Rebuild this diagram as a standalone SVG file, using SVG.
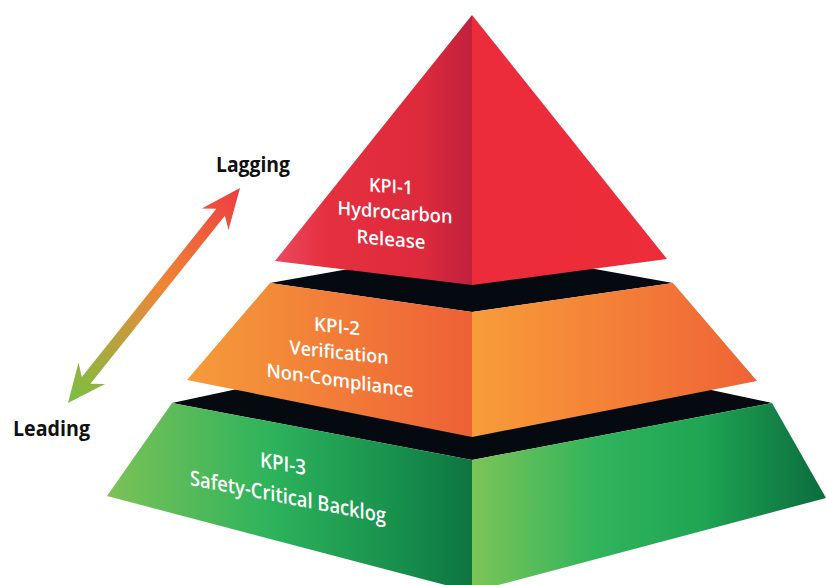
<svg xmlns="http://www.w3.org/2000/svg" width="826" height="585" viewBox="0 0 826 585">
  <defs>
    <linearGradient id="redLeft" gradientUnits="userSpaceOnUse" x1="275" y1="0" x2="472" y2="0">
      <stop offset="0" stop-color="#ea4a62"/>
      <stop offset="0.25" stop-color="#e5303f"/>
      <stop offset="0.75" stop-color="#dd2a3c"/>
      <stop offset="1" stop-color="#c0213e"/>
    </linearGradient>
    <linearGradient id="redRight" gradientUnits="userSpaceOnUse" x1="472" y1="0" x2="667" y2="0">
      <stop offset="0" stop-color="#ec2b3b"/>
      <stop offset="1" stop-color="#ee2d3a"/>
    </linearGradient>
    <linearGradient id="orangeLeft" gradientUnits="userSpaceOnUse" x1="187" y1="0" x2="472" y2="0">
      <stop offset="0" stop-color="#f59c3a"/>
      <stop offset="1" stop-color="#ee6036"/>
    </linearGradient>
    <linearGradient id="orangeRight" gradientUnits="userSpaceOnUse" x1="472" y1="0" x2="757" y2="0">
      <stop offset="0" stop-color="#f89c39"/>
      <stop offset="1" stop-color="#ef6336"/>
    </linearGradient>
    <linearGradient id="greenLeft" gradientUnits="userSpaceOnUse" x1="107" y1="0" x2="472" y2="0">
      <stop offset="0" stop-color="#7cc257"/>
      <stop offset="0.45" stop-color="#2db35c"/>
      <stop offset="0.8" stop-color="#178f4d"/>
      <stop offset="1" stop-color="#0e7442"/>
    </linearGradient>
    <linearGradient id="greenRight" gradientUnits="userSpaceOnUse" x1="472" y1="0" x2="826" y2="0">
      <stop offset="0" stop-color="#7cc458"/>
      <stop offset="0.35" stop-color="#30b45c"/>
      <stop offset="0.65" stop-color="#1fa553"/>
      <stop offset="1" stop-color="#0b6c3e"/>
    </linearGradient>
    <linearGradient id="arrowGrad" gradientUnits="userSpaceOnUse" x1="68" y1="403" x2="240" y2="188">
      <stop offset="0" stop-color="#78c043"/>
      <stop offset="0.35" stop-color="#c79b3b"/>
      <stop offset="0.55" stop-color="#f08536"/>
      <stop offset="1" stop-color="#ee3d40"/>
    </linearGradient>
    <style>
      .top { fill: #050a10; }
      .lbl { font-family: "Open Sans", "Liberation Sans", sans-serif; fill: #ffffff; text-anchor: middle; font-weight: 600; }
      .side { font-family: "Open Sans", "Liberation Sans", sans-serif; fill: #111111; font-weight: 700; font-size: 21px; }
    </style>
  </defs>

  <rect width="826" height="585" fill="#ffffff"/>

  <!-- bottom tier -->
  <g id="tier-3">
    <polygon class="top" points="172,403 472,339 772,403 472,460"/>
    <polygon fill="url(#greenLeft)" points="172,403 472,460 472,592 107,496"/>
    <polygon fill="url(#greenRight)" points="472,460 772,403 826,498 472,592"/>
    <g transform="translate(283,471) skewY(10)">
      <text class="lbl" x="0" y="0" font-size="21" textLength="46" lengthAdjust="spacingAndGlyphs">KPI-3</text>
    </g>
    <g transform="translate(288,504) skewY(11)">
      <text class="lbl" x="0" y="0" font-size="21" textLength="196" lengthAdjust="spacingAndGlyphs">Safety-Critical Backlog</text>
    </g>
  </g>

  <!-- middle tier -->
  <g id="tier-2">
    <polygon class="top" points="270,283 472,247 673,283 472,312"/>
    <polygon fill="url(#orangeLeft)" points="270,283 472,312 472,437 187,380"/>
    <polygon fill="url(#orangeRight)" points="472,312 673,283 757,381 472,437"/>
    <g transform="translate(337,333) skewY(6)">
      <text class="lbl" x="0" y="0" font-size="19" textLength="46" lengthAdjust="spacingAndGlyphs">KPI-2</text>
    </g>
    <g transform="translate(339,359) skewY(6)">
      <text class="lbl" x="0" y="0" font-size="19" textLength="99" lengthAdjust="spacingAndGlyphs">Verification</text>
    </g>
    <g transform="translate(340,387) skewY(8)">
      <text class="lbl" x="0" y="0" font-size="19" textLength="147" lengthAdjust="spacingAndGlyphs">Non-Compliance</text>
    </g>
  </g>

  <!-- top tier -->
  <g id="tier-1">
    <polygon fill="url(#redLeft)" points="472,15 275,261 472,285"/>
    <polygon fill="url(#redRight)" points="472,15 472,285 667,259"/>
    <g transform="translate(391,193) skewY(4)">
      <text class="lbl" x="0" y="0" font-size="19" textLength="44" lengthAdjust="spacingAndGlyphs">KPI-1</text>
    </g>
    <g transform="translate(395,219) skewY(4.5)">
      <text class="lbl" x="0" y="0" font-size="19" textLength="115" lengthAdjust="spacingAndGlyphs">Hydrocarbon</text>
    </g>
    <g transform="translate(391,246) skewY(5)">
      <text class="lbl" x="0" y="0" font-size="19" textLength="69" lengthAdjust="spacingAndGlyphs">Release</text>
    </g>
  </g>

  <g id="label-lagging">
    <text class="side" x="216" y="172" textLength="74" lengthAdjust="spacingAndGlyphs">Lagging</text>
  </g>
  <g id="label-leading">
    <text class="side" x="13" y="436" textLength="77" lengthAdjust="spacingAndGlyphs">Leading</text>
  </g>

  <!-- double-headed scale arrow -->
  <g id="connectors">
    <polygon fill="url(#arrowGrad)" points="240,188 228.5,230 224.9,215.7 90.4,383.8 105,384 68,403 78.5,362.5 81.8,376.9 216.3,208.8 201.8,208.6"/>
  </g>
</svg>
